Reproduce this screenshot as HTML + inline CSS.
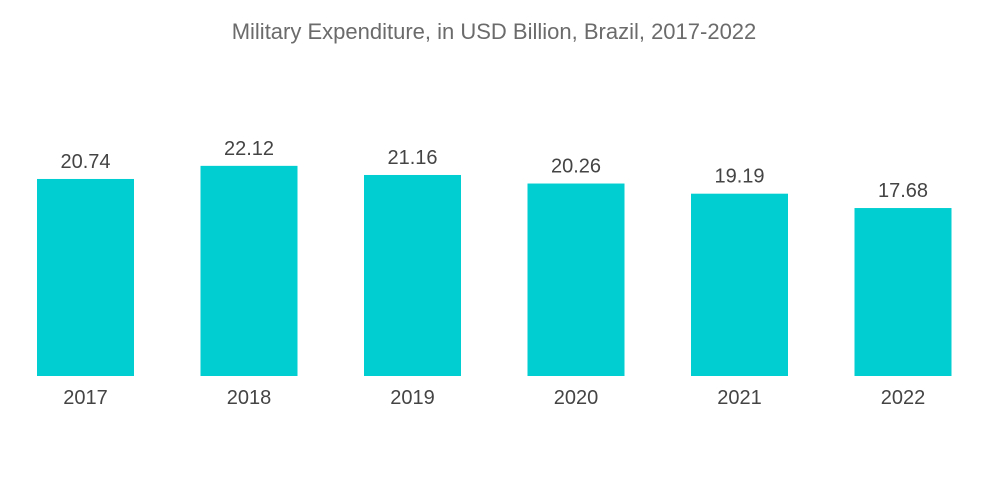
<!DOCTYPE html>
<html><head><meta charset="utf-8"><style>
body{margin:0;background:#fff;}
svg{display:block;font-family:"Liberation Sans",sans-serif;}
</style></head><body>
<svg id="chart" width="1000" height="504">
<text x="494" y="39" text-anchor="middle" font-size="22" fill="#6b6b6b">Military Expenditure, in USD Billion, Brazil, 2017-2022</text>
<g id="bars"></g>
</svg>
<script>
const categories = ["2017","2018","2019","2020","2021","2022"];
const values = [20.74, 22.12, 21.16, 20.26, 19.19, 17.68];
const valueLabels = ["20.74","22.12","21.16","20.26","19.19","17.68"];
const baseY = 376, pxPerUnit = 9.5, startX = 37, step = 163.5, barW = 97;
function xScale(i){return startX + i*step;}
function yScale(v){return baseY - v*pxPerUnit;}
const g = document.getElementById('bars');
const ns = "http://www.w3.org/2000/svg";
categories.forEach((c,i)=>{
  const r = document.createElementNS(ns,'rect');
  r.setAttribute('x', xScale(i)); r.setAttribute('y', yScale(values[i]));
  r.setAttribute('width', barW); r.setAttribute('height', baseY - yScale(values[i]));
  r.setAttribute('fill', '#00CED1');
  
  
  g.appendChild(r);
  const t = document.createElementNS(ns,'text');
  t.setAttribute('x', xScale(i)+barW/2); t.setAttribute('y', yScale(values[i])-11);
  t.setAttribute('text-anchor','middle'); t.setAttribute('font-size','20'); t.setAttribute('fill','#444');
  t.textContent = valueLabels[i];
  
  
  g.appendChild(t);
  const x = document.createElementNS(ns,'text');
  x.setAttribute('x', xScale(i)+barW/2); x.setAttribute('y', 404);
  x.setAttribute('text-anchor','middle'); x.setAttribute('font-size','20'); x.setAttribute('fill','#444');
  x.textContent = c;
  
  
  g.appendChild(x);
});
</script>
</body></html>
